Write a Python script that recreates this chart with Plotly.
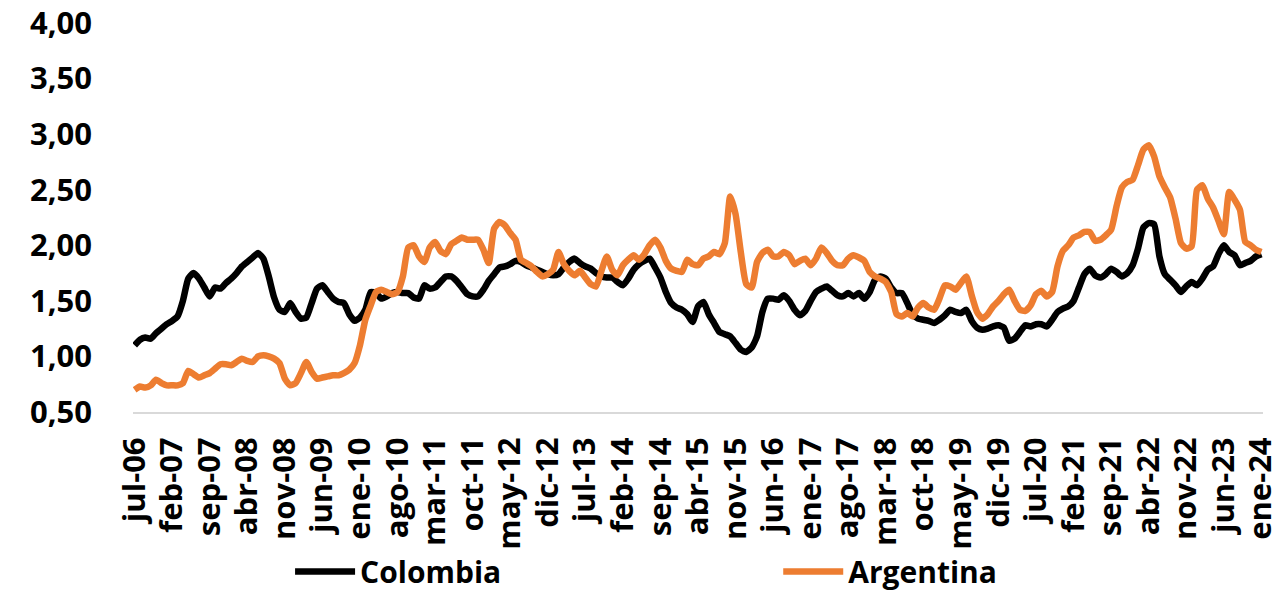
import plotly.graph_objects as go

meses = ["ene", "feb", "mar", "abr", "may", "jun", "jul", "ago", "sep", "oct", "nov", "dic"]
# Monthly categories: jul-06 ... ene-24
fechas = [f"{meses[(6 + k) % 12]}-{(2006 + (6 + k) // 12) % 100:02d}" for k in range(211)]
etiquetas = fechas[::7]

colombia = [
    1.10, 1.15, 1.17, 1.16, 1.21, 1.25, 1.29, 1.32, 1.36, 1.50, 1.70, 1.75,
    1.70, 1.62, 1.54, 1.62, 1.61, 1.66, 1.70, 1.75, 1.81, 1.85, 1.89, 1.93,
    1.88, 1.72, 1.53, 1.42, 1.40, 1.48, 1.40, 1.34, 1.35, 1.48, 1.61, 1.64,
    1.58, 1.52, 1.49, 1.48, 1.38, 1.32, 1.35, 1.42, 1.58, 1.57, 1.52, 1.54,
    1.57, 1.58, 1.57, 1.57, 1.53, 1.52, 1.64, 1.61, 1.62, 1.67, 1.72, 1.72,
    1.68, 1.62, 1.56, 1.54, 1.54, 1.60, 1.68, 1.74, 1.80, 1.81, 1.83, 1.86,
    1.85, 1.82, 1.80, 1.78, 1.76, 1.74, 1.73, 1.74, 1.80, 1.85, 1.88, 1.84,
    1.81, 1.79, 1.75, 1.72, 1.71, 1.71, 1.67, 1.64, 1.70, 1.78, 1.83, 1.86,
    1.88, 1.80, 1.71, 1.58, 1.48, 1.44, 1.42, 1.38, 1.31, 1.45, 1.49, 1.38,
    1.30, 1.22, 1.20, 1.18, 1.12, 1.06, 1.04, 1.08, 1.18, 1.40, 1.52, 1.52,
    1.51, 1.55, 1.50, 1.42, 1.37, 1.41, 1.50, 1.58, 1.61, 1.63, 1.59, 1.55,
    1.54, 1.57, 1.54, 1.57, 1.52, 1.58, 1.69, 1.72, 1.70, 1.62, 1.57, 1.57,
    1.48, 1.38, 1.34, 1.33, 1.32, 1.30, 1.33, 1.37, 1.42, 1.40, 1.39, 1.42,
    1.32, 1.26, 1.24, 1.25, 1.27, 1.28, 1.26, 1.14, 1.16, 1.22, 1.28, 1.27,
    1.29, 1.29, 1.27, 1.33, 1.40, 1.43, 1.45, 1.50, 1.62, 1.74, 1.79, 1.73,
    1.71, 1.74, 1.79, 1.76, 1.72, 1.75, 1.82, 1.97, 2.16, 2.20, 2.19, 1.90,
    1.74, 1.69, 1.64, 1.58, 1.63, 1.67, 1.64, 1.70, 1.78, 1.81, 1.92, 2.00,
    1.94, 1.91, 1.82, 1.84, 1.86, 1.90, 1.92,
]

argentina = [
    0.70, 0.73, 0.72, 0.74, 0.79, 0.76, 0.74, 0.74, 0.74, 0.76, 0.87, 0.84,
    0.81, 0.83, 0.85, 0.89, 0.93, 0.93, 0.92, 0.95, 0.98, 0.96, 0.95, 1.00,
    1.01, 1.00, 0.98, 0.94, 0.80, 0.74, 0.76, 0.85, 0.95, 0.86, 0.80, 0.81,
    0.82, 0.83, 0.83, 0.85, 0.88, 0.94, 1.10, 1.33, 1.46, 1.58, 1.60, 1.58,
    1.56, 1.58, 1.72, 1.98, 2.00, 1.90, 1.85, 1.98, 2.03, 1.95, 1.92, 2.01,
    2.04, 2.07, 2.05, 2.05, 2.05, 1.96, 1.84, 2.15, 2.21, 2.18, 2.11, 2.05,
    1.87, 1.84, 1.81, 1.76, 1.72, 1.74, 1.78, 1.94, 1.83, 1.77, 1.73, 1.77,
    1.71, 1.65, 1.63, 1.77, 1.90, 1.78, 1.73, 1.82, 1.87, 1.91, 1.87, 1.92,
    2.00, 2.05, 1.98, 1.86, 1.79, 1.77, 1.76, 1.87, 1.83, 1.82, 1.88, 1.90,
    1.94, 1.92, 2.02, 2.44, 2.28, 1.93, 1.65, 1.62, 1.85, 1.93, 1.96, 1.90,
    1.90, 1.94, 1.91, 1.83, 1.86, 1.88, 1.82, 1.88, 1.98, 1.93, 1.86, 1.82,
    1.82, 1.88, 1.91, 1.89, 1.86, 1.76, 1.72, 1.70, 1.67, 1.58, 1.38, 1.36,
    1.39, 1.36, 1.44, 1.48, 1.44, 1.42, 1.52, 1.64, 1.63, 1.60, 1.66, 1.72,
    1.55, 1.40, 1.34, 1.38, 1.45, 1.50, 1.56, 1.60, 1.50, 1.42, 1.41, 1.46,
    1.56, 1.59, 1.54, 1.58, 1.81, 1.95, 2.00, 2.07, 2.09, 2.12, 2.12, 2.04,
    2.05, 2.09, 2.14, 2.35, 2.52, 2.57, 2.59, 2.72, 2.86, 2.90, 2.80, 2.62,
    2.52, 2.43, 2.24, 2.02, 1.97, 1.99, 2.50, 2.54, 2.42, 2.34, 2.22, 2.10,
    2.48, 2.41, 2.32, 2.03, 2.00, 1.96, 1.94,
]

y_ticks = [0.5, 1.0, 1.5, 2.0, 2.5, 3.0, 3.5, 4.0]
y_labels = ["0,50", "1,00", "1,50", "2,00", "2,50", "3,00", "3,50", "4,00"]

FONT = "Open Sans"
tfont = dict(family=FONT, size=31, color="black", weight="bold")
lfont = dict(family=FONT, size=30, color="black", weight="bold")

fig = go.Figure()
fig.add_trace(go.Scatter(x=fechas, y=colombia, mode="lines", name="Colombia", legend="legend",
                         line=dict(color="#000000", width=6.5, shape="spline", smoothing=0.5)))
fig.add_trace(go.Scatter(x=fechas, y=argentina, mode="lines", name="Argentina", legend="legend2",
                         line=dict(color="#ED7D31", width=6.5, shape="spline", smoothing=0.5)))

leg_common = dict(orientation="h", xanchor="left", yanchor="middle", y=-0.41,
                  font=lfont, itemwidth=60, bgcolor="rgba(0,0,0,0)", borderwidth=0)

fig.update_layout(
    width=1280, height=591,
    margin=dict(l=133, r=17, t=23, b=179, autoexpand=False),
    paper_bgcolor="white", plot_bgcolor="white",
    font=lfont,
    showlegend=True,
    legend=dict(x=0.139, **leg_common),
    legend2=dict(x=0.571, **leg_common),
    xaxis=dict(type="category", categoryorder="array", categoryarray=fechas,
               range=[-0.3, 210.3], tickmode="array", tickvals=etiquetas, ticktext=etiquetas,
               tickangle=-90, showgrid=False, zeroline=False, automargin=False,
               showline=True, linecolor="#D9D9D9", linewidth=2, ticks="",
               ticklabelstandoff=11, tickfont=tfont),
    yaxis=dict(range=[0.5, 4.0], tickmode="array", tickvals=y_ticks, ticktext=y_labels,
               showgrid=False, zeroline=False, showline=False, ticks="", automargin=False,
               ticklabelstandoff=40, tickfont=tfont),
)

fig.write_html("out.html", config={"displayModeBar": False},
               post_script="document.body.style.margin='0px';")
